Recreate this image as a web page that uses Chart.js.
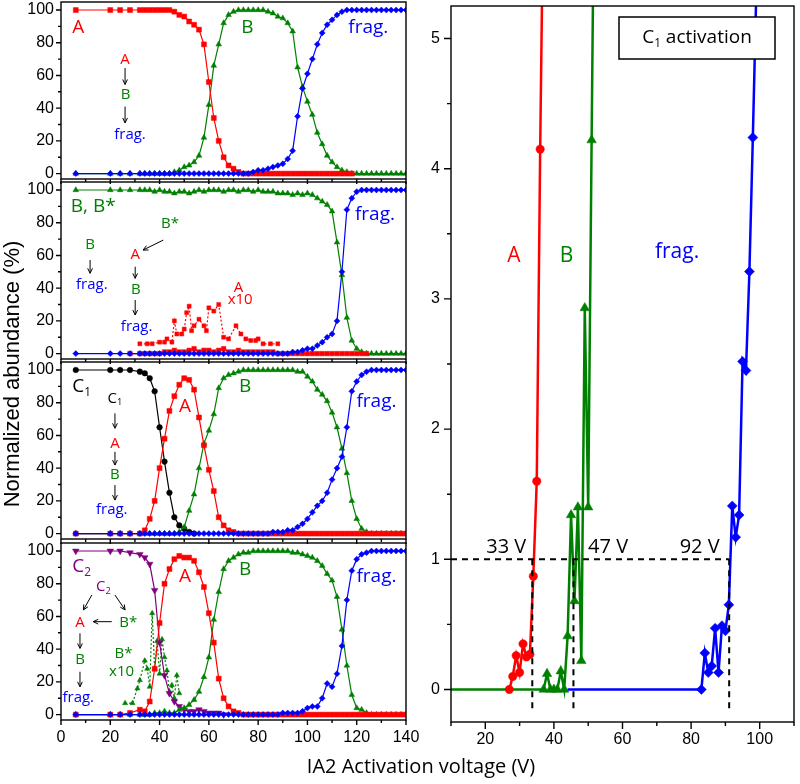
<!DOCTYPE html>
<html>
<head>
<meta charset="utf-8">
<script src="https://cdn.jsdelivr.net/npm/chart.js@4.4.1/dist/chart.umd.min.js"></script>
<style>
body { margin: 0; background: #fff; }
#wrap { position: relative; width: 800px; height: 784px; overflow: hidden; background: #fff; }
#wrap canvas { position: absolute; }
#ytitle { position: absolute; left: -187px; top: 360px; width: 400px; height: 28px; line-height: 28px;
  text-align: center; font: 22px "Liberation Sans", Arial, sans-serif; transform: rotate(-90deg); }
#xtitle { position: absolute; left: 221px; top: 752px; width: 400px; line-height: 28px;
  text-align: center; font: 20px "Open Sans", Lato, sans-serif; }
</style>
</head>
<body>
<div id="wrap">
  <canvas id="c1"></canvas>
  <canvas id="c2"></canvas>
  <canvas id="c3"></canvas>
  <canvas id="c4"></canvas>
  <canvas id="cr"></canvas>
  <div id="ytitle">Normalized abundance (%)</div>
  <div id="xtitle">IA2 Activation voltage (V)</div>
</div>
<script>
// activation voltages shared by the four stacked panels
const voltage = [6, 20, 24, 28, 32, 34, 36, 38, 40, 42, 44, 46, 48, 50, 52, 54, 56, 58, 60, 62,
  64, 66, 68, 70, 72, 74, 76, 78, 80, 82, 84, 86, 88, 90, 92, 94, 96, 98, 100, 102,
  104, 106, 108, 110, 112, 114, 116, 118, 120, 122, 124, 126, 128, 130, 132, 134, 136, 138, 140];
const z = n => new Array(n).fill(0);
const h = n => new Array(n).fill(100);
const nul = n => new Array(n).fill(null);

// panel 1 : A activation
const p1A = [...h(11), 99, 97, 96, 93, 91, 88, 79, 56, 34, 20, 10, 5, 3, 1, 0, 0, 0, 0, 0, 0,
  ...z(10), ...z(7), ...nul(11)];
const p1B = [...z(11), 1, 2, 4, 5, 7, 11, 22, 42, 66, 79, 92, 97, 99, 100, 100, 100, 100, 100, 100, 99,
  98, 96, 95, 92, 87, 65, 53, 44, 36, 25, 18, 11, 7, 4, 2, 1, 0, ...z(11)];
const p1F = [...z(27), 1, 2, 2, 3, 4, 5, 6, 9, 14, 35, 52, 61, 70, 79, 86, 91, 94, 97, 99, 100, ...h(12)];

// panel 2 : B, B* activation
const p2B = [100, 100, 100, 100, 100, 100, 100, 99, 100, 99, 99, 98, 99, 99, 98, 99, 100, 99, 100, 100, 100,
  99, 100, 100, 99, 100, 100, 99, 100, 99, 99, 99, 98, 98, 98, 97, 98, 97, 98, 97, 95,
  93, 91, 87, 68, 48, 22, 8, 3, 1, 0, ...z(8)];
const p2F = [...z(34), 0, 1, 1, 2, 3, 3, 5, 7, 10, 12, 20, 50, 88, 95, 99, 100, 100, ...h(8)];
const p2A = [null, null, null, 0, 0, 0, 0, 0, 0, 1, 1, 2, 1, 1, 2, 3, 1, 2, 2, 1, 2,
  3, 1, 1, 2, 1, 1, 1, 1, 1, 1, 1, ...z(9), ...z(10), ...nul(8)];
const aTenX = [32, 35, 37, 40, 42, 43, 45, 46, 47, 49, 50, 51, 52, 53, 54, 56, 58, 59, 60, 62, 64, 66,
  68, 71, 73, 75, 77, 79, 80, 82, 85, 88];
const aTenY = [6, 6, 6, 7, 7, 9, 7, 20, 12, 12, 15, 25, 29, 14, 17, 21, 17, 14, 28, 26, 30, 10,
  9, 17, 12, 9, 8, 8, 9, 6, 6, 6];

// panel 3 : C1 activation
const p3C = [100, 100, 100, 100, 99, 98, 95, 87, 65, 44, 25, 10, 5, 3, 1, 0, ...nul(43)];
const p3A = [0, 0, 0, 0, 0, 2, 9, 20, 40, 58, 75, 84, 91, 95, 94, 88, 71, 54, 39, 26, 10, 5, 2, 1, 0, ...z(34)];
const p3B = [...z(11), 0, 1, 4, 14, 24, 40, 55, 63, 73, 89, 95, 97, 98, 99, 100, 100, 100, 100, 100, 100,
  100, 100, 100, 100, 100, 99, 99, 96, 93, 88, 85, 81, 74, 65, 52, 37, 20, 9, 3, 1, ...z(8)];
const p3F = [...z(29), 0, 0, 1, 1, 1, 2, 2, 4, 6, 9, 13, 17, 20, 25, 33, 40, 47, 65, 87, 93,
  97, 99, 100, 100, 100, 100, 100, 100, 100, 100];

// panel 4 : C2 activation
const p4C = [100, 100, 100, 99, 98, 96, 92, 76, 44, 24, 13, 8, 5, 3, 2, 2, 3, 2, 1, 1, 1, 0, ...nul(37)];
const p4A = [0, 0, 0, 1, 3, 2, 8, 28, 56, 80, 89, 95, 97, 96, 96, 94, 87, 78, 62, 44,
  22, 10, 5, 2, 1, 0, 0, 0, 0, 0, ...z(29)];
const p4B = [0, 0, 0, 0, 0, 0, 0, 1, 1, 2, 1, 1, 3, 4, 6, 9, 14, 23, 35, 58, 75,
  89, 94, 96, 98, 99, 99, 100, 100, 100, 100, 100, 100, 100, 100, 99, 99, 98, 97, 96, 94,
  91, 86, 82, 72, 52, 30, 12, 4, 3, 1, ...z(8)];
const p4F = [...z(32), 0, 1, 1, 1, 1, 2, 4, 5, 5, 10, 19, 17, 25, 42, 70, 88, 95, 98, 99, 100, ...h(7)];
const bStarX = [26, 29, 31, 32, 34, 35, 36, 37, 38, 39, 40, 41, 42, 43, 44, 45, 46, 47, 48];
const bStarY = [7, 7, 16, 21, 33, 28, 17, 62, 28, 45, 25, 46, 35, 27, 14, 18, 10, 24, 13];

// right panel : C1 activation, zoom on onset
const rAx = [27, 28, 29, 30, 31, 32, 33, 34, 35, 36, 37];
const rAy = [0, 0.1, 0.26, 0.13, 0.35, 0.25, 0.27, 0.87, 1.6, 4.15, 6.3];
const rBx = [10, 37, 38, 39, 40, 41, 42, 43, 44, 45, 46, 47, 48, 49, 50, 51, 52];
const rBy = [0, 0, 0.12, 0, 0, 0, 0.14, 0, 0.41, 1.34, 0.68, 1.4, 0.22, 2.93, 1.4, 4.22, 7];
const rFx = [44, 83, 84, 85, 86, 87, 88, 89, 90, 91, 92, 93, 94, 95, 96, 97, 98, 99];
const rFy = [0, 0, 0.28, 0.13, 0.18, 0.47, 0.13, 0.49, 0.45, 0.65, 1.41, 1.17, 1.34, 2.52, 2.45, 3.21, 4.24, 5.35];
const onsetV = [33.7, 45.7, 91.1];
const onsetLabels = ['33 V', '47 V', '92 V'];
const onsetLevel = 1;

const pctTicks = [0, 20, 40, 60, 80, 100];
const pctMinor = [10, 30, 50, 70, 90];
const voltTicks = [0, 20, 40, 60, 80, 100, 120, 140];
const voltMinor = [10, 30, 50, 70, 90, 110, 130];
const zoomXTicks = [20, 40, 60, 80, 100];
const zoomXMinor = [10, 30, 50, 70, 90, 110];
const zoomYTicks = [0, 1, 2, 3, 4, 5];
const zoomYMinor = [0.5, 1.5, 2.5, 3.5, 4.5];

const RED = '#ff0000', GREEN = '#008000', BLUE = '#0000ff', PURPLE = '#800080', BLACK = '#000000';

Chart.defaults.font.family = '"Liberation Sans", Arial, sans-serif';
Chart.defaults.font.size = 16;
Chart.defaults.color = '#000';

const pts = (xs, ys) => xs.map((x, i) => ({ x: x, y: ys[i] }));

function series(xs, ys, color, style, r, extra) {
  return Object.assign({
    data: pts(xs, ys),
    borderColor: color, backgroundColor: color,
    pointBackgroundColor: color, pointBorderColor: color, pointBorderWidth: 0.5,
    borderWidth: 1.2, pointStyle: style, pointRadius: r, tension: 0, spanGaps: false
  }, extra || {});
}

function arrow(ctx, x1, y1, x2, y2) {
  const ang = Math.atan2(y2 - y1, x2 - x1), hl = 5.5, ha = 0.45;
  ctx.beginPath();
  ctx.moveTo(x1, y1); ctx.lineTo(x2, y2);
  ctx.moveTo(x2 - hl * Math.cos(ang - ha), y2 - hl * Math.sin(ang - ha));
  ctx.lineTo(x2, y2);
  ctx.lineTo(x2 - hl * Math.cos(ang + ha), y2 - hl * Math.sin(ang + ha));
  ctx.stroke();
}

function label(ctx, t, px, py) {
  const font = s => s + 'px "Open Sans", Lato, sans-serif';
  ctx.fillStyle = t.c;
  ctx.textBaseline = 'middle';
  if (!t.sub) {
    ctx.font = font(t.s);
    ctx.textAlign = 'center';
    ctx.fillText(t.t, px, py);
    return;
  }
  ctx.textAlign = 'left';
  ctx.font = font(t.s);
  const wb = ctx.measureText(t.t).width;
  const wr = t.rest ? ctx.measureText(t.rest).width : 0;
  ctx.font = font(t.s * 0.62);
  const ws = ctx.measureText(t.sub).width;
  let x0 = px - (wb + ws + wr) / 2;
  ctx.font = font(t.s);
  ctx.fillText(t.t, x0, py);
  ctx.font = font(t.s * 0.62);
  ctx.fillText(t.sub, x0 + wb, py + t.s * 0.3);
  if (t.rest) { ctx.font = font(t.s); ctx.fillText(t.rest, x0 + wb + ws, py); }
}

const frameTicks = {
  id: 'frameTicks',
  afterDraw(chart, args, o) {
    const ctx = chart.ctx, a = chart.chartArea, xs = chart.scales.x, ys = chart.scales.y;
    ctx.save();
    ctx.strokeStyle = '#000';
    ctx.lineWidth = o.lw;
    ctx.strokeRect(a.left, a.top, a.right - a.left, a.bottom - a.top);
    ctx.beginPath();
    o.xMajor.forEach(v => { const p = xs.getPixelForValue(v); ctx.moveTo(p, a.bottom); ctx.lineTo(p, a.bottom + o.major); });
    o.xMinor.forEach(v => { const p = xs.getPixelForValue(v); ctx.moveTo(p, a.bottom); ctx.lineTo(p, a.bottom + o.minor); });
    o.yMajor.forEach(v => { const p = ys.getPixelForValue(v); ctx.moveTo(a.left, p); ctx.lineTo(a.left - o.major, p); });
    o.yMinor.forEach(v => { const p = ys.getPixelForValue(v); ctx.moveTo(a.left, p); ctx.lineTo(a.left - o.minor, p); });
    ctx.stroke();
    ctx.restore();
  }
};

const notes = {
  id: 'notes',
  afterDraw(chart, args, o) {
    const ctx = chart.ctx, xs = chart.scales.x, ys = chart.scales.y, a = chart.chartArea;
    ctx.save();
    ctx.strokeStyle = '#000';
    ctx.lineWidth = 1;
    (o.arrows || []).forEach(r => arrow(ctx, xs.getPixelForValue(r[0]), ys.getPixelForValue(r[1]),
      xs.getPixelForValue(r[2]), ys.getPixelForValue(r[3])));
    (o.texts || []).forEach(t => label(ctx, t, xs.getPixelForValue(t.x), ys.getPixelForValue(t.y)));
    if (o.box) {
      const b = o.box;
      const bx = a.right - b.right - b.w, by = a.top + b.top;
      ctx.fillStyle = '#fff';
      ctx.fillRect(bx, by, b.w, b.h);
      ctx.lineWidth = 1.5;
      ctx.strokeRect(bx, by, b.w, b.h);
      label(ctx, b.text, bx + b.w / 2, by + b.h / 2);
    }
    ctx.restore();
  }
};

const PANEL_H = 177;

function leftPanel(id, top, datasets, texts, arrows, showLabels) {
  const cv = document.getElementById(id);
  const axisH = showLabels ? 40 : 8;
  cv.width = 420;
  cv.height = 10 + PANEL_H + axisH;
  cv.style.left = '0px';
  cv.style.top = (top - 10) + 'px';
  return new Chart(cv, {
    type: 'line',
    data: { datasets: datasets },
    options: {
      responsive: false,
      animation: false,
      layout: { padding: { top: 10, right: 14, left: 0, bottom: 0 } },
      plugins: {
        legend: { display: false },
        tooltip: { enabled: false },
        frameTicks: { lw: 1.4, major: 5, minor: 3, xMajor: voltTicks, xMinor: voltMinor, yMajor: pctTicks, yMinor: pctMinor },
        notes: { texts: texts, arrows: arrows }
      },
      scales: {
        x: {
          type: 'linear', min: 0, max: 140,
          grid: { display: false, drawTicks: false }, border: { display: false },
          afterBuildTicks: s => { s.ticks = voltTicks.map(v => ({ value: v })); },
          ticks: { display: showLabels, padding: 8, maxRotation: 0, autoSkip: false },
          afterFit: s => { s.height = axisH; s.paddingLeft = 0; s.paddingRight = 0; }
        },
        y: {
          min: -3.3, max: 104.9,
          grid: { display: false, drawTicks: false }, border: { display: false },
          afterBuildTicks: s => { s.ticks = pctTicks.map(v => ({ value: v })); },
          ticks: { padding: 7, autoSkip: false },
          afterFit: s => { s.width = 61; s.paddingTop = 0; s.paddingBottom = 0; }
        }
      }
    },
    plugins: [frameTicks, notes]
  });
}

const big = 19, small = 15;

leftPanel('c1', 2, [
  series(voltage, p1F, BLUE, 'rectRot', 3),
  series(voltage, p1A, RED, 'rect', 3.5),
  series(voltage, p1B, GREEN, 'triangle', 3.3)
], [
  { t: 'A', x: 7, y: 89, c: RED, s: big },
  { t: 'B', x: 75.6, y: 89, c: GREEN, s: big },
  { t: 'frag.', x: 124.7, y: 89, c: BLUE, s: big },
  { t: 'A', x: 26, y: 69.4, c: RED, s: small },
  { t: 'B', x: 26.2, y: 48, c: GREEN, s: small },
  { t: 'frag.', x: 28, y: 23.6, c: BLUE, s: small }
], [[26, 64.5, 26, 54.5], [26, 41, 26, 31]], false);

leftPanel('c2', 182, [
  series(voltage, p2F, BLUE, 'rectRot', 3),
  series(voltage, p2A, RED, 'rect', 3.2),
  series(aTenX, aTenY, RED, 'rect', 2.8, { borderDash: [2, 2] }),
  series(voltage, p2B, GREEN, 'triangle', 3.3)
], [
  { t: 'B, B*', x: 13.1, y: 89.8, c: GREEN, s: big },
  { t: 'frag.', x: 127.4, y: 84.7, c: BLUE, s: big },
  { t: 'B', x: 11.8, y: 66.4, c: GREEN, s: small },
  { t: 'frag.', x: 12.5, y: 41.9, c: BLUE, s: small },
  { t: 'B*', x: 44.2, y: 79.6, c: GREEN, s: small },
  { t: 'A', x: 30.1, y: 60.3, c: RED, s: small },
  { t: 'B', x: 30.4, y: 38.9, c: GREEN, s: small },
  { t: 'frag.', x: 30.7, y: 16.4, c: BLUE, s: small },
  { t: 'A', x: 72, y: 40.1, c: RED, s: small },
  { t: 'x10', x: 72.7, y: 32.8, c: RED, s: small }
], [[11.8, 57.2, 11.8, 49.1], [41.5, 69.4, 33.3, 63.3], [30.1, 53.1, 30.1, 46], [30.1, 32.8, 30.1, 23.6]], false);

leftPanel('c3', 362, [
  series(voltage, p3F, BLUE, 'rectRot', 3),
  series(voltage, p3A, RED, 'rect', 3.5),
  series(voltage, p3B, GREEN, 'triangle', 3.3),
  series(voltage, p3C, BLACK, 'circle', 2.8)
], [
  { t: 'C', sub: '1', x: 8.4, y: 89.8, c: BLACK, s: big },
  { t: 'C', sub: '1', x: 21.9, y: 82.7, c: BLACK, s: small },
  { t: 'A', x: 21.9, y: 55.2, c: RED, s: small },
  { t: 'B', x: 21.9, y: 35.8, c: GREEN, s: small },
  { t: 'frag.', x: 20.6, y: 14.4, c: BLUE, s: small },
  { t: 'A', x: 50.3, y: 77.6, c: RED, s: big },
  { t: 'B', x: 74.7, y: 89.8, c: GREEN, s: big },
  { t: 'frag.', x: 128, y: 80.6, c: BLUE, s: big }
], [[21.9, 73.5, 21.9, 64.4], [21.9, 50, 21.9, 41.9], [21.9, 29.7, 21.9, 20.5]], false);

leftPanel('c4', 543, [
  series(voltage, p4F, BLUE, 'rectRot', 3),
  series(voltage, p4A, RED, 'rect', 3.5),
  series(voltage, p4B, GREEN, 'triangle', 3.3),
  series(voltage, p4C, PURPLE, 'triangle', 3.8, { pointRotation: 180 }),
  series(bStarX, bStarY, GREEN, 'triangle', 3, { borderDash: [2, 2] })
], [
  { t: 'C', sub: '2', x: 8.4, y: 90.4, c: PURPLE, s: big },
  { t: 'A', x: 50.3, y: 84.3, c: RED, s: big },
  { t: 'B', x: 74.7, y: 88.4, c: GREEN, s: big },
  { t: 'frag.', x: 128, y: 84.3, c: BLUE, s: big },
  { t: 'C', sub: '2', x: 17.2, y: 78.2, c: PURPLE, s: small },
  { t: 'A', x: 7.7, y: 56.4, c: RED, s: small },
  { t: 'B*', x: 27.3, y: 56.4, c: GREEN, s: small },
  { t: 'B', x: 7.7, y: 33.4, c: GREEN, s: small },
  { t: 'frag.', x: 7, y: 10.3, c: BLUE, s: small },
  { t: 'B*', x: 25.4, y: 37.5, c: GREEN, s: small },
  { t: 'x10', x: 24.6, y: 26.2, c: GREEN, s: small }
], [[12.5, 73.1, 9.1, 64], [21.9, 73.1, 26, 64], [20.6, 56.8, 13.1, 56.8], [7.7, 49.7, 7.7, 40.5], [7.7, 26.2, 7.7, 17]], true);

// right panel
(function () {
  const cv = document.getElementById('cr');
  cv.width = 400;
  cv.height = 762;
  cv.style.left = '400px';
  cv.style.top = '0px';
  const hideFirst = r => ctx => ctx.dataIndex === 0 ? 0 : r;
  const dash = { borderColor: BLACK, borderWidth: 2, borderDash: [6, 5], pointRadius: 0, tension: 0 };
  const levelLine = Object.assign({ data: pts([10, onsetV[2]], [onsetLevel, onsetLevel]) }, dash);
  const drops = onsetV.map(v => Object.assign({ data: pts([v, v], [onsetLevel, -0.18]) }, dash));
  new Chart(cv, {
    type: 'line',
    data: {
      datasets: [
        levelLine, ...drops,
        series(rAx, rAy, RED, 'circle', 4.2, { borderWidth: 2.5 }),
        series(rFx, rFy, BLUE, 'rectRot', 5, { borderWidth: 2.5, pointRadius: hideFirst(5) }),
        series(rBx, rBy, GREEN, 'triangle', 5.5, { borderWidth: 2.5, pointRadius: hideFirst(5.5) })
      ]
    },
    options: {
      responsive: false,
      animation: false,
      layout: { padding: { top: 2, right: 3, left: 0, bottom: 0 } },
      plugins: {
        legend: { display: false },
        tooltip: { enabled: false },
        frameTicks: { lw: 1.4, major: 7, minor: 4, xMajor: zoomXTicks, xMinor: zoomXMinor, yMajor: zoomYTicks, yMinor: zoomYMinor },
        notes: {
          texts: [
            { t: 'A', x: 28.3, y: 3.33, c: RED, s: 21 },
            { t: 'B', x: 43.7, y: 3.33, c: GREEN, s: 21 },
            { t: 'frag.', x: 75.9, y: 3.36, c: BLUE, s: 21 },
            { t: onsetLabels[0], x: 26.1, y: 1.09, c: BLACK, s: 20 },
            { t: onsetLabels[1], x: 55.8, y: 1.09, c: BLACK, s: 20 },
            { t: onsetLabels[2], x: 82.5, y: 1.09, c: BLACK, s: 20 }
          ],
          box: { right: 19, top: 11, w: 156, h: 42, text: { t: 'C', sub: '1', rest: ' activation', c: BLACK, s: 19 } }
        }
      },
      scales: {
        x: {
          type: 'linear', min: 10, max: 110,
          grid: { display: false, drawTicks: false }, border: { display: false },
          afterBuildTicks: s => { s.ticks = zoomXTicks.map(v => ({ value: v })); },
          ticks: { padding: 8, maxRotation: 0, autoSkip: false },
          afterFit: s => { s.height = 40; s.paddingLeft = 0; s.paddingRight = 0; }
        },
        y: {
          min: -0.25, max: 5.25,
          grid: { display: false, drawTicks: false }, border: { display: false },
          afterBuildTicks: s => { s.ticks = zoomYTicks.map(v => ({ value: v })); },
          ticks: { padding: 11, autoSkip: false },
          afterFit: s => { s.width = 51; s.paddingTop = 0; s.paddingBottom = 0; }
        }
      }
    },
    plugins: [frameTicks, notes]
  });
})();
</script>
</body>
</html>
